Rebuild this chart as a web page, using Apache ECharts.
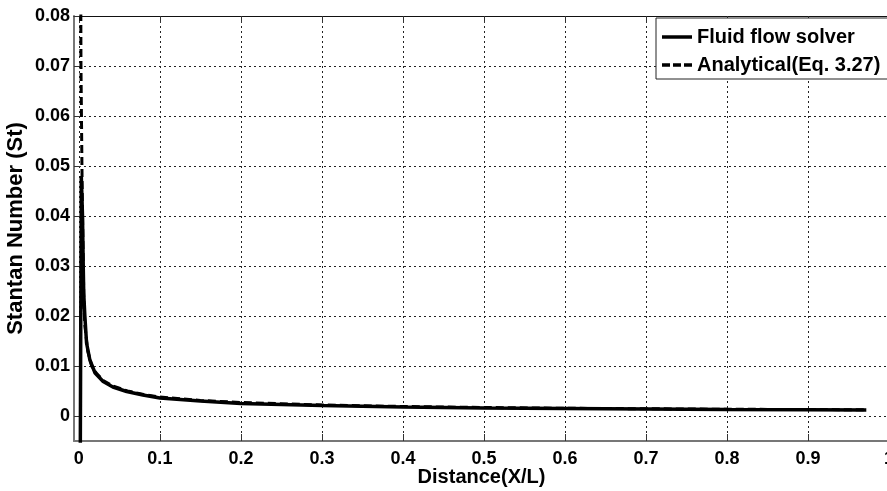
<!DOCTYPE html>
<html>
<head>
<meta charset="utf-8">
<script src="https://cdn.jsdelivr.net/npm/echarts@6/dist/echarts.min.js"></script>
<style>
html,body{margin:0;padding:0;background:#fff;}
#chart{width:887px;height:491px;}
</style>
</head>
<body>
<div id="chart"></div>
<script>
// Tick positions / labels
var xTicks = [0, 0.1, 0.2, 0.3, 0.4, 0.5, 0.6, 0.7, 0.8, 0.9, 1];
var yTicks = [0, 0.01, 0.02, 0.03, 0.04, 0.05, 0.06, 0.07, 0.08];

// Fluid flow solver (solid)
var solverX  = [0.0018, 0.0030, 0.0045, 0.0053, 0.0060, 0.0074, 0.0095, 0.0136, 0.020, 0.030, 0.042, 0.059, 0.079, 0.100, 0.150, 0.200, 0.300, 0.400, 0.500, 0.600, 0.700, 0.800, 0.900, 0.972];
var solverSt = [-0.006, 0.048, 0.040, 0.031, 0.0246, 0.020, 0.0146, 0.0112, 0.0086, 0.0069, 0.0058, 0.0049, 0.0042, 0.0036, 0.0030, 0.0025, 0.0021, 0.0018, 0.0016, 0.0015, 0.0014, 0.0013, 0.00125, 0.0012];

// Analytical (Eq. 3.27) (dashed)
var analyticalX  = [0.0022, 0.0026, 0.0032, 0.0038, 0.0045, 0.0055, 0.0062, 0.0075, 0.0110, 0.0160, 0.022, 0.030, 0.042, 0.060, 0.080, 0.100, 0.150, 0.200, 0.300, 0.400, 0.500, 0.600, 0.700, 0.800, 0.900, 0.972];
var analyticalSt = [0.095, 0.070, 0.060, 0.050, 0.040, 0.030, 0.022, 0.018, 0.013, 0.0099, 0.0085, 0.0071, 0.0060, 0.0050, 0.0043, 0.0038, 0.0031, 0.0027, 0.0022, 0.0019, 0.0017, 0.00155, 0.00145, 0.00135, 0.0013, 0.00125];

var seriesNames = ['Fluid flow solver', 'Analytical(Eq. 3.27)'];

function pairs(xs, ys) { return xs.map(function (x, i) { return [x, ys[i]]; }); }
function fmt(v) { return String(Math.round(v * 1000) / 1000); }

var FONT = '"Liberation Sans", Arial, sans-serif';
var chart = echarts.init(document.getElementById('chart'), null, {renderer: 'canvas'});
chart.setOption({
  backgroundColor: '#fff',
  animation: false,
  grid: {left: 74, right: -2, top: 16, bottom: 50, containLabel: false, outerBoundsMode: 'none'},
  legend: {
    left: 656, top: 18,
    orient: 'vertical',
    data: [
      {name: seriesNames[0], icon: 'path://M0,0h30v3.5h-30z'},
      {name: seriesNames[1], icon: 'path://M0,0h8v3.5h-8zM11,0h8v3.5h-8zM22,0h8v3.5h-8z'}
    ],
    backgroundColor: '#fff',
    borderColor: '#222',
    borderWidth: 1,
    padding: [9, 40, 4, 6],
    itemWidth: 30,
    itemHeight: 20,
    itemGap: 8,
    itemStyle: {color: '#000', borderWidth: 0},
    textStyle: {fontFamily: FONT, fontWeight: 'bold', fontSize: 20, color: '#000', lineHeight: 20}
  },
  xAxis: [{
    type: 'value', min: -0.006, max: 1,
    name: 'Distance(X/L)', nameLocation: 'middle', nameGap: 26, nameMoveOverlap: false,
    nameTextStyle: {fontFamily: FONT, fontWeight: 'bold', fontSize: 20, color: '#000'},
    axisLine: {show: true, onZero: false, lineStyle: {color: '#777', width: 2}},
    axisTick: {show: true, inside: true, length: 7, customValues: xTicks, lineStyle: {color: '#333'}},
    axisLabel: {customValues: xTicks, formatter: fmt, margin: 9, fontFamily: FONT, fontWeight: 'bold', fontSize: 18, color: '#000'},
    splitLine: {show: true, lineStyle: {color: '#222', type: [2, 3], width: 1}}
  }, {
    type: 'value', min: -0.006, max: 1, position: 'top',
    axisLine: {show: true, onZero: false, lineStyle: {color: '#111', width: 1}},
    axisTick: {show: true, inside: true, length: 7, customValues: xTicks, lineStyle: {color: '#333'}},
    axisLabel: {show: false},
    splitLine: {show: false}
  }],
  yAxis: [{
    type: 'value', min: -0.005, max: 0.08,
    name: 'Stantan Number (St)', nameLocation: 'middle', nameGap: 47, nameMoveOverlap: false,
    nameTextStyle: {fontFamily: FONT, fontWeight: 'bold', fontSize: 22, color: '#000'},
    axisLine: {show: true, onZero: false, lineStyle: {color: '#777', width: 2}},
    axisTick: {show: true, inside: true, length: 7, customValues: yTicks, lineStyle: {color: '#333'}},
    axisLabel: {customValues: yTicks, formatter: fmt, margin: 4, fontFamily: FONT, fontWeight: 'bold', fontSize: 18, color: '#000'},
    splitLine: {show: true, lineStyle: {color: '#222', type: [2, 3], width: 1}}
  }],
  series: [{
    name: seriesNames[0], type: 'line', xAxisIndex: 0, yAxisIndex: 0,
    data: pairs(solverX, solverSt),
    symbol: 'none', smooth: false, clip: true,
    lineStyle: {color: '#000', width: 3.5, type: 'solid'},
    itemStyle: {color: '#000'}
  }, {
    name: seriesNames[1], type: 'line', xAxisIndex: 0, yAxisIndex: 0,
    data: pairs(analyticalX, analyticalSt),
    symbol: 'none', smooth: false, clip: true,
    lineStyle: {color: '#000', width: 3, type: [8, 4]},
    itemStyle: {color: '#000'}
  }]
});
</script>
</body>
</html>
